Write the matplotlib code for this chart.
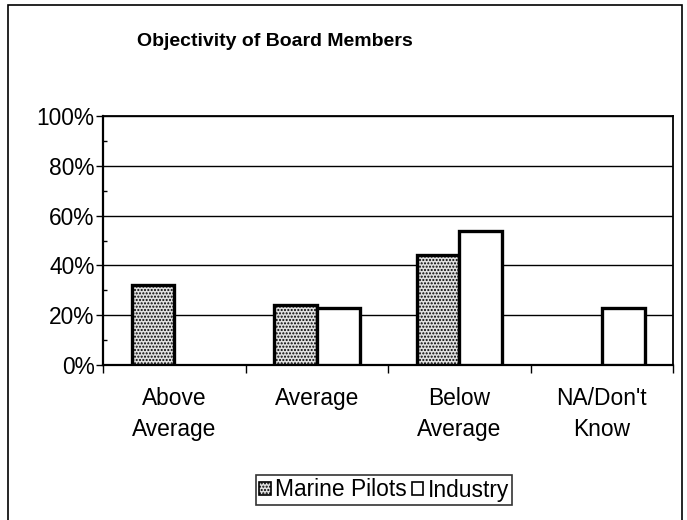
import numpy as np
import matplotlib
matplotlib.use("Agg")
import matplotlib.pyplot as plt
from matplotlib.patches import Rectangle

plt.rcParams['font.family'] = ['Liberation Sans', 'DejaVu Sans']
plt.rcParams['hatch.linewidth'] = 1.0

categories = ["Above\nAverage", "Average", "Below\nAverage", "NA/Don't\nKnow"]
marine_pilots = [32, 24, 44, 0]
industry = [0, 23, 54, 23]
y_ticks = [0, 20, 40, 60, 80, 100]
y_tick_labels = ["0%", "20%", "40%", "60%", "80%", "100%"]

W, H = 687, 520
fig = plt.figure(figsize=(W / 100, H / 100), dpi=100)
ax = fig.add_axes([103 / W, 1 - 365 / H, (673 - 103) / W, (365 - 116) / H])

x = np.arange(len(categories))
bw = 0.3
mp = np.array(marine_pilots, dtype=float)
ind = np.array(industry, dtype=float)

mk = mp > 0
ik = ind > 0
ax.bar(x[mk] - bw / 2, mp[mk], width=bw, facecolor='#e0e0e0', edgecolor='black',
       linewidth=2.4, hatch='.....', zorder=3, label='Marine Pilots')
ax.bar(x[ik] + bw / 2, ind[ik], width=bw, facecolor='white', edgecolor='black',
       linewidth=2.4, zorder=3, label='Industry')

ax.set_xlim(-0.5, len(categories) - 0.5)
ax.set_ylim(0, 100)

fs = 16.4
ax.set_yticks(y_ticks)
ax.set_yticklabels(y_tick_labels, fontsize=fs)
ax.set_yticks(np.arange(10, 100, 20), minor=True)
ax.tick_params(axis='y', which='major', direction='out', length=5, width=1, pad=1)
ax.tick_params(axis='y', which='minor', direction='in', length=3, width=1)
ax.yaxis.grid(True, which='major', color='black', linewidth=1.0, zorder=0)

ax.set_xticks(np.arange(-0.5, len(categories), 1.0))
ax.set_xticklabels([])
ax.set_xticks(x, minor=True)
ax.set_xticklabels(categories, minor=True, fontsize=fs, linespacing=1.42)
ax.tick_params(axis='x', which='major', direction='out', length=6, width=1)
ax.tick_params(axis='x', which='minor', length=0, pad=16)

for s in ax.spines.values():
    s.set_linewidth(1.3)
    s.set_color('black')
ax.spines['left'].set_linewidth(1.6)
ax.spines['bottom'].set_linewidth(1.6)

fig.text(275 / W, 1 - 42 / H, "Objectivity of Board Members", ha='center', va='center',
         fontsize=14, fontweight='bold')

leg = ax.legend(loc='center', bbox_to_anchor=(384 / W, 1 - 490 / H), bbox_transform=fig.transFigure,
                ncol=2, fontsize=fs, frameon=True, fancybox=False, edgecolor='black',
                handlelength=0.5, handleheight=0.5, handletextpad=0.2, columnspacing=0.2,
                borderpad=0.15, borderaxespad=0)
leg.get_frame().set_linewidth(1.2)
for h in leg.legend_handles:
    h.set_linewidth(1.2)

fig.patches.append(Rectangle((8 / W, -10 / H), (682 - 8) / W, (515 + 10) / H, transform=fig.transFigure,
                             fill=False, edgecolor='black', linewidth=1.2))

fig.savefig("out.png", dpi=100, facecolor='white')
